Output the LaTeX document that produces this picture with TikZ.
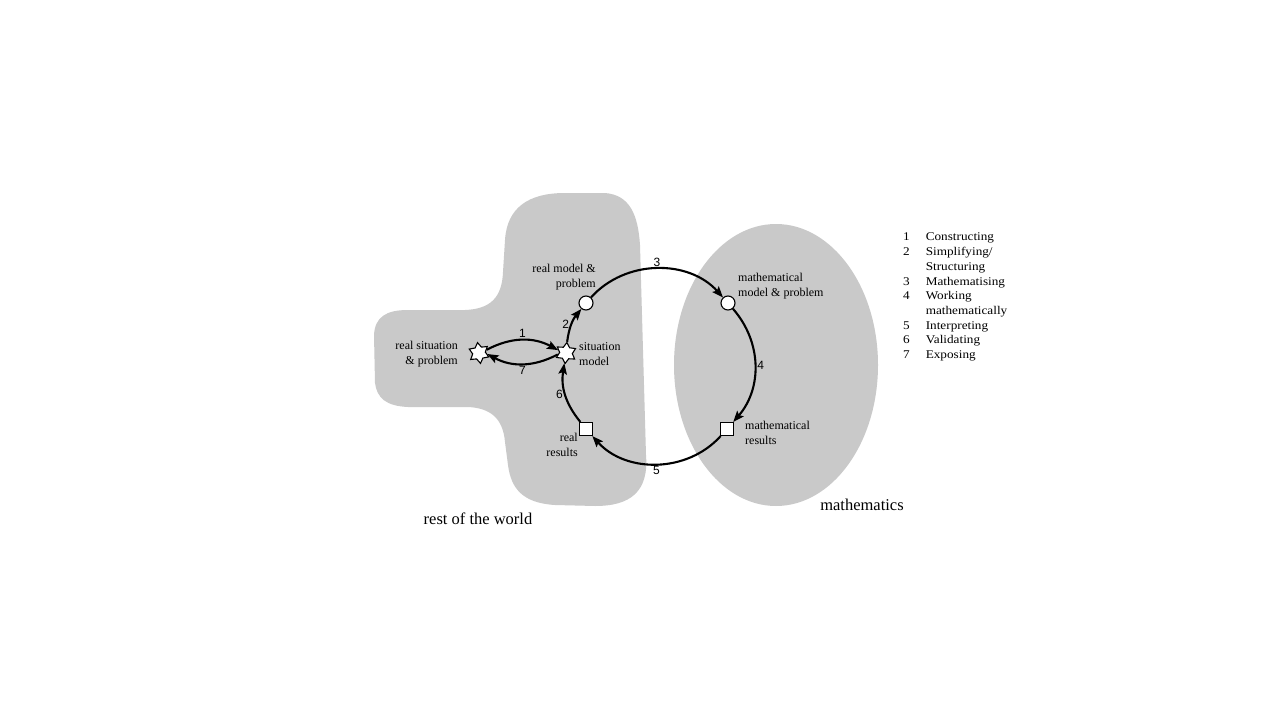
\documentclass[tikz,border=0pt]{standalone}
\usepackage{fontspec}
\setmainfont{Liberation Serif}
\newfontfamily\numfont{Liberation Sans}
\newfontfamily\legendfont[FakeStretch=1.12]{Liberation Serif}
\usetikzlibrary{shapes.geometric,arrows.meta}
\definecolor{blobgray}{RGB}{201,201,201}
\begin{document}
\begin{tikzpicture}[x=1pt,y=-1pt,
  arr/.style={line width=2.1pt, -{Stealth[length=11pt,width=8.5pt,inset=2pt]}},
  lab/.style={font=\fontsize{12}{14.5}\selectfont, inner sep=0pt},
  big/.style={font=\fontsize{16.5}{19}\selectfont, inner sep=0pt},
  num/.style={font=\numfont\fontsize{12}{14}\selectfont, inner sep=1.5pt},
  starnode/.style={star, star points=6, star point ratio=1.65, minimum size=21pt, draw, fill=white, line width=1.1pt, inner sep=0pt},
  circnode/.style={circle, draw, fill=white, line width=1.1pt, minimum size=14pt, inner sep=0pt},
  sqnode/.style={rectangle, draw, fill=white, line width=1.1pt, minimum size=13pt, inner sep=0pt}]
\useasboundingbox (0,0) rectangle (1280,720);
\fill[white] (0,0) rectangle (1280,720);
% rest of the world blob
\fill[blobgray] (565,193) -- (605,193) .. controls (630,195) and (638,215) .. (640,245)
  -- (646,455) .. controls (649,492) and (630,506) .. (595,506)
  -- (555,505) .. controls (522,503) and (511,488) .. (508,465)
  -- (505,442) .. controls (503,418) and (490,408) .. (468,407)
  -- (408,407) .. controls (386,406) and (377,398) .. (375,383)
  -- (374,335) .. controls (375,317) and (386,310) .. (408,310)
  -- (465,310) .. controls (490,309) and (502,298) .. (503,272)
  -- (505,240) .. controls (507,208) and (528,193) .. (565,193) -- cycle;
% mathematics ellipse
\fill[blobgray] (776,365) ellipse [x radius=102, y radius=141];
% nodes
\node[starnode, rotate=8] (rs) at (479,353) {};
\node[starnode, rotate=-5] (sm) at (566,353) {};
\node[circnode] (rm) at (586,303) {};
\node[circnode] (mm) at (728,303) {};
\node[sqnode] (mr) at (727,429) {};
\node[sqnode] (rr) at (586,429) {};
% connectors
\draw[arr] (rs.15) to[bend left=28] node[num, above] {1} (sm.165);
\draw[arr] (sm.195) to[bend left=28] node[num, below] {7} (rs.-15);
\draw[arr] (sm) to[bend left=16] node[num, left, pos=0.5] {2} (rm);
\draw[arr] (rm) to[bend left=48] node[num, above] {3} (mm);
\draw[arr] (mm) to[bend left=41] node[num, right] {4} (mr);
\draw[arr] (mr) to[bend left=48] node[num, below] {5} (rr);
\draw[arr] (rr) to[bend left=24] node[num, left] {6} (sm);
% labels
\node[lab, anchor=east, align=right] (lrs) at (458,354) {real situation\\\& problem};
\node[lab, anchor=east, align=right] (lrm) at (596,277) {real model \&\\problem};
\node[lab, anchor=west, align=left] (lsm) at (579,354) {situation\\model};
\node[lab, anchor=east, align=right] (lrr) at (578,445) {real\\results};
\node[lab, anchor=west, align=left] (lmm) at (738,286) {mathematical\\model \& problem};
\node[lab, anchor=west, align=left] (lmr) at (745,433) {mathematical\\results};
\node[big] (world) at (478,519) {rest of the world};
\node[big] (maths) at (862,505) {mathematics};
% legend
\node[anchor=north west, inner sep=0pt, font=\legendfont\fontsize{11.8}{14.7}\selectfont] (legend) at (903,230.5) {%
\begin{tabular}{@{}l@{\hspace{16pt}}l@{}}
1 & Constructing\\
2 & Simplifying/\\
  & Structuring\\
3 & Mathematising\\
4 & Working\\
  & mathematically\\
5 & Interpreting\\
6 & Validating\\
7 & Exposing
\end{tabular}};
\end{tikzpicture}
\end{document}
